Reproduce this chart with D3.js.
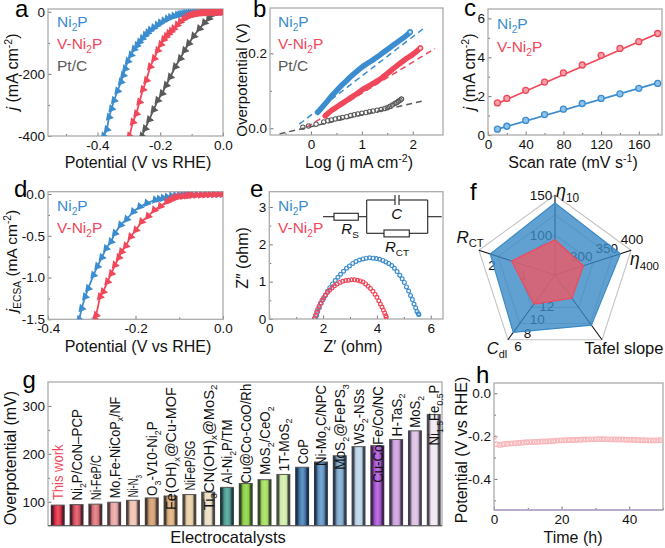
<!DOCTYPE html>
<html><head><meta charset="utf-8">
<script src="https://d3js.org/d3.v7.min.js"></script>
<style>html,body{margin:0;padding:0;background:#fff}svg{display:block}text{font-family:"Liberation Sans",Arial,sans-serif}</style>
</head><body><svg id="c" width="665" height="548"></svg>
<script>
// ---------- data ----------
const seriesNames=["Ni_{2}P","V-Ni_{2}P","Pt/C"];
const aNiV=[-.38,-.37,-.363,-.355,-.347,-.336,-.325,-.318,-.3115,-.303,-.293,-.283,-.274,-.266,-.257,-.248,-.24,-.232,-.221,-.21,-.2,-.189,-.178,-.168,-.157,-.146,-.139,-.133,-.126,-.12,-.113,-.106,-.1,-.093,-.085,-.076,-.068,-.06,-.053,-.045,-.038,-.03,-.022,-.015,-.007,0];
const aNiJ=[-400,-379,-339,-312,-285,-255,-226,-204,-183,-159,-139,-120,-108,-97,-86,-75,-67,-59,-51,-43,-36,-29,-23,-18,-14,-11,-9.5,-8,-6.5,-5,-4.5,-4,-3.5,-3,-2.6,-2.2,-1.8,-1.5,-1.3,-1.2,-1.1,-1,-.8,-.5,-.3,0];
const aVV=[-.298,-.287,-.276,-.266,-.255,-.244,-.232,-.219,-.208,-.198,-.189,-.181,-.173,-.165,-.157,-.146,-.136,-.125,-.114,-.107,-.1,-.094,-.088,-.081,-.075,-.068,-.062,-.056,-.05,-.045,-.04,-.035,-.03,-.025,-.02,-.015,-.01,-.005,0];
const aVJ=[-400,-355,-328,-290,-250,-220,-177,-150,-124,-105,-89,-79,-70,-62,-54,-42,-32,-23,-16,-13,-11,-9,-7.5,-6,-5,-4,-3.5,-3.1,-2.8,-2.6,-2.4,-2.2,-2,-1.9,-1.8,-1.7,-1.6,-1.5,-1.5];
const aPtV=[-.258,-.248,-.235,-.221,-.208,-.194,-.181,-.168,-.152,-.136,-.122,-.109,-.093,-.075,-.059,-.045,-.029,-.013,0];
const aPtJ=[-400,-376,-347,-315,-285,-263,-236,-210,-177,-150,-124,-102,-78,-54,-35,-21,-7,-2,-1];

const bNiL=[.13,.2,.3,.4,.5,.6,.7,.8,.9,1,1.1,1.2,1.3,1.4,1.5,1.6,1.7,1.8,1.9,1.95];
const bNiE=[.042,.053,.069,.085,.1,.114,.127,.14,.152,.163,.172,.181,.19,.2,.21,.22,.23,.24,.25,.257];
const bVL=[.28,.4,.5,.6,.7,.8,.9,1,1.1,1.2,1.3,1.4,1.5,1.6,1.7,1.8,1.9,2,2.1,2.15];
const bVE=[.033,.047,.056,.065,.074,.083,.092,.102,.11,.118,.126,.135,.146,.157,.168,.178,.188,.197,.208,.214];
const bPtL=[-.16,-.05,.1,.25,.33,.4,.48,.55,.62,.7,.78,.85,.92,1,1.08,1.15,1.22,1.3,1.38,1.45,1.5,1.55,1.6,1.65,1.69,1.72,1.75,1.78];
const bPtE=[.003,.006,.011,.017,.02,.022,.025,.027,.029,.031,.034,.036,.038,.04,.042,.044,.046,.048,.05,.053,.055,.058,.062,.066,.069,.072,.075,.078];
const bFitNi=[[-.23,.011],[2.22,.267]];
const bFitV=[[-.085,.003],[2.44,.213]];
const bFitPt=[[-.62,-.015],[2.22,.0736]];

const cRate=[10,20,40,60,80,100,120,140,160,180];
const cV=[1.65,1.88,2.3,2.72,3.2,3.6,4.1,4.45,4.8,5.22];
const cNi=[.3,.45,.75,1.05,1.33,1.62,1.88,2.12,2.4,2.65];
const cFitV=[[10,1.62],[180,5.22]];
const cFitNi=[[10,.3],[180,2.68]];

const dNiV=[-.3285,-.323,-.315,-.308,-.296,-.287,-.277,-.267,-.256,-.247,-.234,-.22,-.205,-.19,-.174,-.155,-.146,-.137,-.128,-.118,-.109,-.1,-.093,-.086,-.078,-.07,-.06,-.05,-.04,-.03,-.02,-.01,0];
const dNiJ=[-1.5,-1.37,-1.23,-1.13,-.97,-.865,-.76,-.65,-.57,-.47,-.37,-.3,-.21,-.15,-.11,-.07,-.06,-.05,-.037,-.025,-.02,-.016,-.014,-.012,-.01,-.008,-.007,-.006,-.005,-.004,-.003,-.002,0];
const dVV=[-.292,-.29,-.281,-.274,-.264,-.255,-.247,-.238,-.232,-.222,-.211,-.199,-.186,-.171,-.157,-.143,-.128,-.12,-.113,-.106,-.1,-.091,-.082,-.076,-.07,-.06,-.05,-.04,-.03,-.02,-.01,0];
const dVJ=[-1.5,-1.45,-1.23,-1.17,-1.05,-.95,-.85,-.76,-.69,-.62,-.51,-.43,-.33,-.265,-.19,-.145,-.09,-.07,-.05,-.04,-.03,-.025,-.02,-.017,-.015,-.012,-.01,-.008,-.006,-.004,-.002,0];

const eNiX=[1.72,1.76,1.8,1.86,1.93,2,2.08,2.16,2.25,2.35,2.45,2.55,2.65,2.76,2.87,2.98,3.1,3.22,3.35,3.48,3.6,3.73,3.86,3.98,4.1,4.22,4.33,4.44,4.55,4.65,4.75,4.85,4.94,5.02,5.1,5.18,5.25,5.32,5.38,5.44,5.49,5.54,5.56];
const eNiY=[.02,.1,.2,.3,.42,.52,.63,.74,.84,.94,1.03,1.12,1.2,1.28,1.36,1.42,1.49,1.54,1.58,1.61,1.63,1.64,1.63,1.62,1.6,1.57,1.53,1.49,1.43,1.36,1.27,1.17,1.08,.98,.86,.75,.63,.52,.4,.3,.2,.14,.12];
const eVX=[1.68,1.72,1.76,1.8,1.85,1.9,1.96,2.02,2.09,2.16,2.24,2.33,2.42,2.52,2.62,2.73,2.84,2.95,3.06,3.17,3.28,3.38,3.48,3.58,3.67,3.76,3.85,3.93,4,4.07,4.13,4.19,4.24,4.29,4.33,4.35];
const eVY=[.02,.1,.18,.26,.34,.42,.5,.57,.64,.71,.77,.83,.89,.94,.98,1.01,1.03,1.04,1.05,1.05,1.04,1.02,.99,.94,.88,.82,.74,.66,.58,.49,.4,.32,.24,.16,.09,.05];

const radarAxes=["*η*_{10}","*η*_{400}","Tafel slope","*C*_{dl}","*R*_{CT}"];
const radarDomains=[[50,150],[250,400],[0,100],[15.8,6],[0,2.42]];
const radarNi=[140,379,77.5,7.1,2.06];
const radarV=[94,306,36,11.4,1.38];
const radarTicks=[[100,150],[300,350,400],[],[12,10,8,6],[1,2]];

const gCats=["This work","Ni_{2}P/CoN–PCP","Ni-FeP/C","Mo,Fe-NiCoP_{x}/NF","Ni-N_{3}","O_{3}-V10-Ni_{2}P","Fe(OH)_{x}@Cu-MOF","NiFeP/SG","Ti_{3}CN(OH)_{x}@MoS_{2}","Al-Ni_{2}P/TM","Cu@Co-CoO/Rh","MoS_{2}/CeO_{2}","1T-MoS_{2}","CoP","Ni-Mo_{2}C/NPC","MoS_{2}@FePS_{3}","WS_{2}-NSs","Cu-CoFe/Co/NC","H-TaS_{2}","MoS_{2}","Ni_{1.5}Fe_{0.5}P"];
const gVals=[93,94,95,99,103,108,112,115,120,130,138,146,157,172,183,196,215,217,230,248,282];
const gColors=["#e0283e","#d94a5a","#dc6e74","#e8a0a0","#f0c0ae","#cf9a6c","#dcae78","#e6cca0","#eadcc0","#479a90","#86d03c","#a2dc58","#cfeaa8","#3c78b0","#5a90c2","#7aa6ca","#b8d2e6","#a850d2","#c89cd8","#dabde2","#f0e6f0"];

const hTimeStep=.8;
const hPot=[-.205,-.238,-.241,-.239,-.237,-.236,-.235,-.234,-.233,-.232,-.231,-.23,-.229,-.228,-.228,-.227,-.226,-.226,-.225,-.225,-.224,-.224,-.223,-.221,-.22,-.22,-.219,-.219,-.218,-.218,-.218,-.217,-.217,-.216,-.216,-.215,-.215,-.215,-.214,-.214,-.214,-.214,-.215,-.215,-.215,-.216,-.216,-.216,-.216,-.217,-.217,-.217,-.218,-.218,-.219,-.219,-.219,-.22,-.22,-.22,-.22,-.219,-.219];

// ---------- styles ----------
const BLUE="#3b8dcf",RED="#f0485a",GREY="#5a5a5a";
const svg=d3.select("#c");

function rich(sel,s,fs){
  const toks=s.match(/(_\{[^}]*\}|\^\{[^}]*\}|\*[^*]*\*|[^_^*]+)/g);
  let shift=0;
  toks.forEach(t=>{
    let txt=t,target=0,small=false,ital=false;
    if(t[0]=="_"){txt=t.slice(2,-1);target=fs*.26;small=true;}
    else if(t[0]=="^"){txt=t.slice(2,-1);target=-fs*.36;small=true;}
    else if(t[0]=="*"){txt=t.slice(1,-1);ital=true;}
    const ts=sel.append("tspan").text(txt).attr("dy",target-shift);
    if(small)ts.attr("font-size",fs*.66);
    if(ital)ts.attr("font-style","italic");
    shift=target;
  });
  return sel;
}
function label(x,y,s,fs,opt={}){
  const t=svg.append("text").attr("x",opt.rot?null:x).attr("y",opt.rot?null:y).attr("font-size",fs)
    .attr("fill",opt.fill||"#111").attr("text-anchor",opt.anchor||"start");
  if(opt.rot)t.attr("transform",`translate(${x},${y}) rotate(-90)`);
  return rich(t,s,fs);
}
const fmt1=v=>d3.format(".1f")(v).replace("−","-");
function panel(p){
  const x=d3.scaleLinear().domain(p.xd).range([p.x0,p.x1]);
  const y=d3.scaleLinear().domain(p.yd).range([p.y1,p.y0]);
  const g=svg.append("g");
  const ax=g.append("g").attr("transform",`translate(0,${p.y1})`);
  if(p.xm)ax.call(d3.axisBottom(x).tickValues(p.xm).tickSize(-2).tickFormat(""));
  g.append("g").attr("transform",`translate(0,${p.y1})`).call(d3.axisBottom(x).tickValues(p.xt).tickSize(-3.5).tickPadding(4.6).tickFormat(p.xf||(v=>v)));
  const ay=g.append("g").attr("transform",`translate(${p.x0},0)`);
  if(p.ym)ay.call(d3.axisLeft(y).tickValues(p.ym).tickSize(-2).tickFormat(""));
  g.append("g").attr("transform",`translate(${p.x0},0)`).call(d3.axisLeft(y).tickValues(p.yt).tickSize(-3.5).tickPadding(3).tickFormat(p.yf||(v=>v)));
  g.selectAll(".domain").remove();
  g.selectAll(".tick line").attr("stroke","#777").attr("stroke-width",1);
  g.selectAll(".tick text").attr("font-size",13.5).attr("fill","#111").style("font-family",'"Liberation Sans",Arial,sans-serif');
  svg.append("rect").attr("x",p.x0).attr("y",p.y0).attr("width",p.x1-p.x0).attr("height",p.y1-p.y0)
    .attr("fill","none").attr("stroke","#ababab").attr("stroke-width",1.3);
  const clipId="clip"+p.id;
  svg.append("clipPath").attr("id",clipId).append("rect").attr("x",p.x0).attr("y",p.y0).attr("width",p.x1-p.x0).attr("height",p.y1-p.y0);
  const plot=svg.append("g").attr("clip-path",`url(#${clipId})`);
  return {x,y,plot};
}
function triCurve(P,xs,ys,col){
  const pts=xs.map((v,i)=>[v,ys[i]]);
  P.plot.append("path").attr("d",d3.line().x(d=>P.x(d[0])).y(d=>P.y(d[1]))(pts)).attr("fill","none").attr("stroke",col).attr("stroke-width",1.8);
  P.plot.selectAll(null).data(pts).join("path").attr("d",d3.symbol(d3.symbolTriangle,32)())
    .attr("fill",col).attr("transform",d=>`translate(${P.x(d[0])},${P.y(d[1])}) rotate(100)`);
}
function fit(P,seg,col,w,dash){
  P.plot.append("path").attr("d",d3.line().x(d=>P.x(d[0])).y(d=>P.y(d[1])).curve(d3.curveMonotoneX)(seg)).attr("fill","none")
    .attr("stroke",col).attr("stroke-width",w).attr("stroke-dasharray",dash||null).attr("stroke-linecap",dash?"butt":"round");
}
function ringDots(P,xs,ys,col,r,w,fill){
  const pts=xs.map((v,i)=>[v,ys[i]]);
  P.plot.selectAll(null).data(pts).join("circle").attr("cx",d=>P.x(d[0])).attr("cy",d=>P.y(d[1])).attr("r",r)
    .attr("fill",fill||"none").attr("stroke",col).attr("stroke-width",w);
}

// ---------- a ----------
const A=panel({id:"a",x0:48,x1:223,y0:9,y1:136,xd:[-.5575,0],yd:[-400,9],xt:[-.4,-.2,0],xm:[-.5,-.3,-.1],yt:[0,-200,-400],ym:[-100,-300],xf:fmt1});
triCurve(A,aPtV,aPtJ,GREY);triCurve(A,aNiV,aNiJ,BLUE);triCurve(A,aVV,aVJ,RED);
label(57,27,seriesNames[0],15.5,{fill:BLUE});label(57,49,seriesNames[1],15.5,{fill:RED});label(57,71,seriesNames[2],15.5,{fill:GREY});
label(138,168,"Potential (V vs RHE)",16,{anchor:"middle"});
label(18,72,"*j* (mA cm^{-2})",16,{rot:1,anchor:"middle"});

// ---------- b ----------
const B=panel({id:"b",x0:270,x1:443,y0:8,y1:135,xd:[-.806,2.596],yd:[-.018,.321],xt:[0,1,2],xm:[-.5,.5,1.5],yt:[0,.2],ym:[.1],yf:fmt1});
fit(B,bFitPt,GREY,1.5,"6,4");fit(B,bFitNi,BLUE,1.5,"6,4");fit(B,bFitV,RED,1.5,"6,4");
fit(B,bNiL.map((v,i)=>[v,bNiE[i]]),BLUE,5.5);
fit(B,bVL.map((v,i)=>[v,bVE[i]]),RED,5.5);
ringDots(B,bNiL.slice(-1),bNiE.slice(-1),BLUE,2.2,1.3,"#bfe0f5");
ringDots(B,bVL.slice(-1),bVE.slice(-1),RED,2.2,1.3,"#fbd0d4");
ringDots(B,bPtL,bPtE,GREY,2.2,1.1);
label(278,26.7,seriesNames[0],15.5,{fill:BLUE});label(278,49,seriesNames[1],15.5,{fill:RED});label(278,71,seriesNames[2],15.5,{fill:GREY});
label(359,168,"Log (j mA cm^{-2})",16,{anchor:"middle"});
label(247,80,"Overpotential (V)",15,{rot:1,anchor:"middle"});

// ---------- c ----------
const C=panel({id:"c",x0:488,x1:662,y0:9,y1:135,xd:[0,184.6],yd:[0,6.48],xt:[0,40,80,120,160],xm:[20,60,100,140,180],yt:[0,2,4,6],ym:[1,3,5]});
fit(C,cFitNi,BLUE,1.8);fit(C,cFitV,RED,1.8);
ringDots(C,cRate,cNi,BLUE,3,1.3,"#8fc2ea");ringDots(C,cRate,cV,RED,3,1.3,"#f8a0a8");
label(497,29,seriesNames[0],15.5,{fill:BLUE});label(497,52,seriesNames[1],15.5,{fill:RED});
label(573,168,"Scan rate (mV s^{-1})",16,{anchor:"middle"});
label(475,72,"*j* (mA cm^{-2})",16,{rot:1,anchor:"middle"});

// ---------- d ----------
const D=panel({id:"d",x0:48,x1:223,y0:191.7,y1:319.3,xd:[-.4,0],yd:[-1.5,.028],xt:[-.4,-.2,0],xm:[-.3,-.1],yt:[0,-.5,-1,-1.5],ym:[-.25,-.75,-1.25],xf:fmt1,yf:fmt1});
triCurve(D,dNiV,dNiJ,BLUE);triCurve(D,dVV,dVJ,RED);
label(57,210.7,seriesNames[0],15.5,{fill:BLUE});label(57,233,seriesNames[1],15.5,{fill:RED});
label(138,351.7,"Potential (V vs RHE)",16,{anchor:"middle"});
label(17,261,"*j*_{ECSA} (mA cm^{-2})",15.5,{rot:1,anchor:"middle"});

// ---------- e ----------
const E=panel({id:"e",x0:269.3,x1:443,y0:191.7,y1:319,xd:[0,6.457],yd:[0,3.41],xt:[0,2,4,6],xm:[1,3,5],yt:[0,1,2,3],ym:[.5,1.5,2.5]});
ringDots(E,eNiX,eNiY,BLUE,1.9,1.2);ringDots(E,eVX,eVY,RED,1.9,1.2);
label(278,210.7,seriesNames[0],15.5,{fill:BLUE});label(278,233,seriesNames[1],15.5,{fill:RED});
label(353,351.7,"Z′ (ohm)",16,{anchor:"middle"});
label(248,258,"Z″ (ohm)",16,{rot:1,anchor:"middle"});
// circuit inset
const wires=[[[323,216.7],[334,216.7]],[[358.3,216.7],[366.7,216.7]],[[366.7,200],[366.7,233.3]],[[366.7,200],[395,200]],[[399,200],[427.7,200]],[[395,195],[395,205]],[[399,195],[399,205]],[[427.7,200],[427.7,233.3]],[[366.7,233.3],[384,233.3]],[[409.3,233.3],[427.7,233.3]],[[427.7,216.7],[441.7,216.7]]];
const circuit=svg.append("g");
circuit.selectAll(null).data(wires).join("path").attr("d",d3.line()).attr("stroke","#222").attr("stroke-width",1.1).attr("fill","none");
circuit.selectAll(null).data([[334,213.3,24.3,6.9],[384,230,25.3,6.9]]).join("rect").attr("x",d=>d[0]).attr("y",d=>d[1]).attr("width",d=>d[2]).attr("height",d=>d[3]).attr("fill","#fff").attr("stroke","#222").attr("stroke-width",1.1);
label(396.7,219,"*C*",15,{anchor:"middle"});
label(350,234,"*R*_{S}",15,{anchor:"middle"});
label(397,252,"*R*_{CT}",15,{anchor:"middle"});

// ---------- f ----------
const cx=555,cy=275,R=80;
const rad=radarDomains.map(d=>d3.scaleLinear().domain(d).range([0,R]));
const ang=d3.scalePoint().domain(d3.range(5)).range([0,288]);
const pos=(i,r)=>{const a=ang(i)*Math.PI/180;return [cx+r*Math.sin(a),cy-r*Math.cos(a)];};
const radar=svg.append("g");
[.25,.5,.75,1].forEach(f=>radar.append("path").attr("d",d3.line()(d3.range(5).map(i=>pos(i,f*R)))+"Z").attr("fill","none").attr("stroke","#c4c4c4").attr("stroke-width",1.1));
d3.range(5).forEach(i=>radar.append("path").attr("d",d3.line()([pos(i,0),pos(i,R)])).attr("stroke","#111").attr("stroke-width",1.1));
const tickOff=[[-14,0],[1,-11],[0,0],[10,6],[0,10.5]];
radarTicks.forEach((ts,i)=>ts.forEach(v=>{
  const [px,py]=pos(i,rad[i](v));
  radar.append("text").attr("x",px+tickOff[i][0]).attr("y",py+tickOff[i][1]+5).attr("text-anchor","middle").attr("font-size",13.5).attr("fill","#111").text(v);
}));
const poly=(vals,fill,op,stroke)=>radar.append("path").attr("d",d3.line()(vals.map((v,i)=>pos(i,rad[i](v))))+"Z").attr("fill",fill).attr("fill-opacity",op).attr("stroke",stroke).attr("stroke-width",1.2);
poly(radarNi,"#3a8ac6",.8,"#3a8ac6");
poly(radarV,"#ea5a68",.82,"#f0485a");
label(556,197,radarAxes[0],18);
label(630,265,radarAxes[1],17.5);
label(624,354,radarAxes[2],16.5,{anchor:"middle"});
label(497,354,radarAxes[3],16.5,{anchor:"middle"});
label(470,243,radarAxes[4],17,{anchor:"middle"});

// ---------- g ----------
const G=panel({id:"g",x0:48,x1:442,y0:382,y1:525.7,xd:[0,1],yd:[50,350],xt:[],yt:[100,200,300],ym:[150,250]});
const gx=d3.scaleBand().domain(gCats).range([49.5,442]).paddingInner(.26).paddingOuter(.07);
const defs=svg.append("defs");
gCats.forEach((c,i)=>{
  const base=d3.color(gColors[i]);
  const dk=d3.interpolateRgb(base,"#1c1c24")(.78), lt=d3.interpolateRgb(base,"#ffffff")(.22);
  const gr=defs.append("linearGradient").attr("id","bar"+i);
  [[0,dk],[.14,dk],[.3,base.formatHex()],[.52,lt],[.72,base.formatHex()],[.86,dk],[1,dk]].forEach(s=>gr.append("stop").attr("offset",s[0]).attr("stop-color",s[1]));
});
svg.selectAll(null).data(gCats).join("rect").attr("x",d=>gx(d)).attr("width",gx.bandwidth())
  .attr("y",(d,i)=>G.y(gVals[i])).attr("height",(d,i)=>G.y(50)-G.y(gVals[i])).attr("fill",(d,i)=>`url(#bar${i})`);
svg.selectAll(null).data(gCats).join("line").attr("x1",d=>gx(d)).attr("x2",d=>gx(d)+gx.bandwidth())
  .attr("y1",(d,i)=>G.y(gVals[i])).attr("y2",(d,i)=>G.y(gVals[i])).attr("stroke","#555").attr("stroke-width",1);
svg.append("line").attr("x1",48).attr("x2",442).attr("y1",525.7).attr("y2",525.7).attr("stroke","#555").attr("stroke-width",1);
const labelLift=[5,4,4,4,3,2,-14,4,-18,3,0,5,3,3,-4,-14,2,-37,3,3,-31];
const labelLen=[55.7,91.7,45,101.7,22.3,74.7,123,50,125.7,65,100,68.3,53,25,81,85.7,56,96.7,43,32,61];
gCats.forEach((c,i)=>{
  const tx=gx(c)+gx.bandwidth()/2+5.5, ty=G.y(gVals[i])-labelLift[i];
  const t=svg.append("text").attr("font-size",14).attr("fill",i==0?"#f0485a":"#111");
  rich(t,c,14);
  const L=t.node().getComputedTextLength();
  t.attr("transform",`translate(${tx},${ty}) rotate(-90) scale(${labelLen[i]/L},1)`);
});
label(228,543,"Electrocatalysts",16.5,{anchor:"middle"});
label(16,458,"Overpotential (mV)",16,{rot:1,anchor:"middle"});

// ---------- h ----------
const H=panel({id:"h",x0:494,x1:663,y0:383,y1:510,xd:[0,50],yd:[-.545,.048],xt:[0,20,40],xm:[10,30,50],yt:[0,-.2,-.4],ym:[-.1,-.3,-.5],yf:fmt1});
svg.append("line").attr("x1",494).attr("x2",663).attr("y1",510).attr("y2",510).attr("stroke","#b3a5cc").attr("stroke-width",1.3);
ringDots(H,hPot.map((v,i)=>i*hTimeStep),hPot,"#f7b6ba",2.4,1.1);
label(573,543,"Time (h)",16,{anchor:"middle"});
label(466.5,450,"Potential (V vs RHE)",16,{rot:1,anchor:"middle"});

// ---------- panel letters ----------
[["a",15,17],["b",253,17],["c",464,16],["d",14,197],["e",250,197],["f",470,200],["g",22.5,388],["h",476,383]]
 .forEach(d=>svg.append("text").attr("x",d[1]).attr("y",d[2]).attr("font-size",24).attr("fill","#000").text(d[0]));
</script></body></html>
